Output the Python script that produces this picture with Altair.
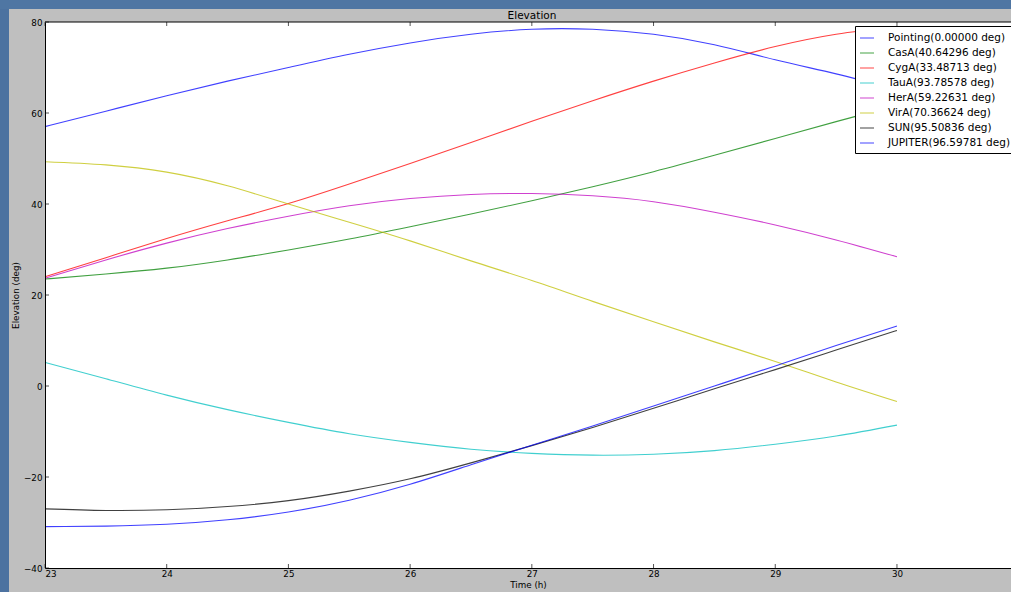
import altair as alt
import pandas as pd

# Elevation of each source over the observing window (hours)
times = [23.0, 23.5, 24.0, 24.5, 25.0, 25.5, 26.0, 26.5, 27.0, 27.5, 28.0, 28.5, 29.0, 29.5, 30.0]

pointing = [57.0, 60.4, 63.8, 67.0, 70.0, 72.9, 75.4, 77.3, 78.4, 78.4, 77.3, 75.0, 71.7, 68.6, 65.2]
casa = [23.5, 24.6, 25.9, 27.7, 29.9, 32.3, 35.0, 37.8, 40.7, 43.8, 47.1, 50.7, 54.4, 58.1, 61.7]
cyga = [24.0, 28.2, 32.4, 36.3, 40.1, 44.4, 48.9, 53.5, 58.2, 62.7, 67.0, 71.0, 74.6, 77.3, 79.0]
taua = [5.2, 1.6, -2.0, -5.2, -8.0, -10.5, -12.4, -13.9, -14.8, -15.2, -15.0, -14.2, -12.8, -11.0, -8.6]
hera = [23.7, 27.7, 31.4, 34.6, 37.3, 39.6, 41.2, 42.1, 42.3, 41.8, 40.5, 38.2, 35.4, 32.1, 28.4]
vira = [49.3, 48.6, 47.0, 44.0, 40.0, 36.0, 31.9, 27.5, 23.2, 18.6, 14.1, 9.7, 5.4, 0.9, -3.4]
sun = [-27.0, -27.35, -27.2, -26.5, -25.2, -23.1, -20.4, -16.9, -13.1, -9.1, -4.9, -0.6, 3.6, 7.9, 12.2]
jupiter = [-30.9, -30.8, -30.4, -29.4, -27.7, -25.1, -21.6, -17.3, -13.0, -8.8, -4.4, 0.0, 4.4, 8.9, 13.2]

names = ["Pointing", "CasA", "CygA", "TauA", "HerA", "VirA", "SUN", "JUPITER"]
separations = ["0.00000", "40.64296", "33.48713", "93.78578", "59.22631", "70.36624", "95.50836", "96.59781"]
series = [pointing, casa, cyga, taua, hera, vira, sun, jupiter]
colors = ["#0000ff", "#008000", "#ff0000", "#00bfbf", "#bf00bf", "#bfbf00", "#000000", "#0000ff"]

x_ticks = [23, 24, 25, 26, 27, 28, 29, 30]
y_ticks = [-40, -20, 0, 20, 40, 60, 80]
chart_title = "Elevation"

labels = [f"{n}({s} deg)" for n, s in zip(names, separations)]
rows = []
for label, values in zip(labels, series):
    for t, v in zip(times, values):
        rows.append({"time": t, "elevation": v, "source": label})
df = pd.DataFrame(rows)

W, H = 966, 546
FONT = "DejaVu Sans"

x_scale = alt.Scale(domain=[23, 30.937], nice=False, zero=False)
y_scale = alt.Scale(domain=[-40, 80], nice=False, zero=False)

one = alt.Data(values=[{"k": 1}])

# desktop strips around the figure window
strip_left = alt.Chart(one).mark_rect(color="#4c72a0").encode(
    x=alt.value(-45), x2=alt.value(-36), y=alt.value(-22), y2=alt.value(H + 24)
)
strip_top = alt.Chart(one).mark_rect(color="#4f76a3").encode(
    x=alt.value(-45), x2=alt.value(W + 10), y=alt.value(-22), y2=alt.value(-13)
)

# title text centred over the full axes box
title_text = alt.Chart(alt.Data(values=[{"title": chart_title}])).mark_text(
    font=FONT, fontSize=10.5, color="#000000", align="center", baseline="alphabetic"
).encode(text="title:N", x=alt.value(487), y=alt.value(-3.5))

lines = alt.Chart(df).mark_line(strokeWidth=1.1, interpolate="natural", opacity=0.75).encode(
    x=alt.X("time:Q", scale=x_scale, title="Time (h)",
            axis=alt.Axis(values=x_ticks, format="d", grid=False, ticks=False,
                          labelPadding=1, titlePadding=3, domainColor="#000000",
                          labelFontSize=8.75, titleFontSize=8.75, zindex=1)),
    y=alt.Y("elevation:Q", scale=y_scale, title="Elevation (deg)",
            axis=alt.Axis(values=y_ticks, format="d", grid=False, ticks=False,
                          labelPadding=3, titlePadding=3, domainColor="#000000",
                          labelFontSize=8.75, titleFontSize=8.75, zindex=1)),
    color=alt.Color("source:N", sort=labels,
                    scale=alt.Scale(domain=labels, range=colors),
                    legend=alt.Legend(title=None, orient="none", legendX=810, legendY=4,
                                      symbolType="stroke", symbolSize=196, symbolStrokeWidth=1.2,
                                      symbolOpacity=0.6, labelFontSize=10.5, labelFont=FONT,
                                      labelColor="#000000", labelOffset=13, rowPadding=1,
                                      padding=4, fillColor="#ffffff", strokeColor="#000000",
                                      labelLimit=400)),
)

xt = pd.DataFrame({"t": x_ticks})
yt = pd.DataFrame({"v": y_ticks})
tick_style = dict(color="#555555", strokeWidth=1)
ticks_bottom = alt.Chart(xt).mark_rule(**tick_style).encode(
    x=alt.X("t:Q", scale=x_scale), y=alt.value(H), y2=alt.value(H - 4))
ticks_top = alt.Chart(xt).mark_rule(**tick_style).encode(
    x=alt.X("t:Q", scale=x_scale), y=alt.value(0), y2=alt.value(4))
ticks_left = alt.Chart(yt).mark_rule(**tick_style).encode(
    y=alt.Y("v:Q", scale=y_scale), x=alt.value(0), x2=alt.value(4))
spine_top = alt.Chart(one).mark_rule(color="#000000", strokeWidth=1).encode(
    x=alt.value(0), x2=alt.value(W), y=alt.value(0))

chart = alt.layer(
    strip_left, strip_top, title_text, lines, ticks_bottom, ticks_top, ticks_left, spine_top
).properties(
    width=W, height=H,
    autosize=alt.AutoSizeParams(type="none"),
    padding={"left": 45, "top": 22, "right": 0, "bottom": 24},
    background="#bfbfbf",
).configure_view(
    fill="#ffffff", strokeWidth=0
).configure_axis(
    labelFont=FONT, titleFont=FONT, labelColor="#000000", titleColor="#000000",
    titleFontWeight="normal"
)

chart.save("out.html", embed_options={"renderer": "svg", "actions": False})
